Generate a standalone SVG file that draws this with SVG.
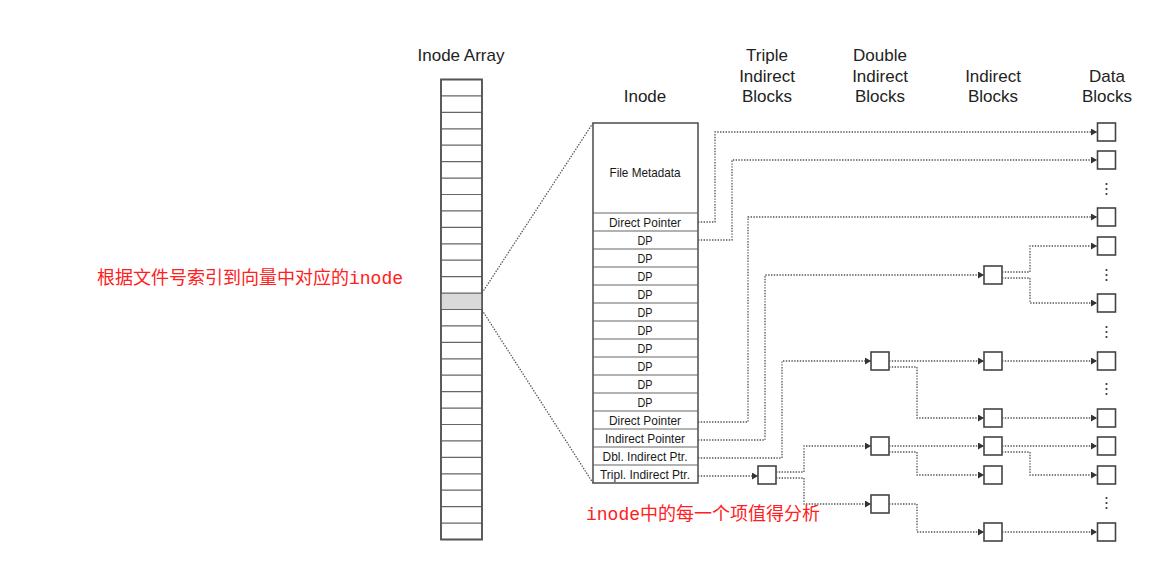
<svg xmlns="http://www.w3.org/2000/svg" width="1167" height="578" viewBox="0 0 1167 578">
<style>
.hdr{font-family:"Liberation Sans",Arial,sans-serif;font-size:17px;fill:#222;text-anchor:middle}
.cell{font-family:"Liberation Sans",Arial,sans-serif;font-size:13px;fill:#1a1a1a;text-anchor:middle}
.red{font-family:"Liberation Mono","Noto Sans CJK SC",monospace;font-size:18px;fill:#ff2020}
.blk{fill:#fff;stroke:#444;stroke-width:1.6}
.frame{fill:#fff;stroke:#555;stroke-width:1.6}
.rowline{stroke:#666;stroke-width:1.2}
.dot{fill:none;stroke:#555;stroke-width:1.3;stroke-dasharray:1.4 1.4}
.arr{fill:none;stroke:#555;stroke-width:1.3;stroke-dasharray:1.4 1.4;marker-end:url(#ah)}
.ell{fill:#333}
</style>
<defs>
<marker id="ah" markerUnits="userSpaceOnUse" markerWidth="6" markerHeight="7" refX="6" refY="3.5" orient="auto">
<path d="M0,0 L6,3.5 L0,7 z" fill="#333"/>
</marker>
</defs>
<rect width="1167" height="578" fill="#fff"/>

<g id="headers">
<text class="hdr" x="461" y="61">Inode Array</text>
<text class="hdr" x="645" y="102">Inode</text>
<text class="hdr" x="767" y="61">Triple</text>
<text class="hdr" x="767" y="82">Indirect</text>
<text class="hdr" x="767" y="102">Blocks</text>
<text class="hdr" x="880" y="61">Double</text>
<text class="hdr" x="880" y="82">Indirect</text>
<text class="hdr" x="880" y="102">Blocks</text>
<text class="hdr" x="993" y="82">Indirect</text>
<text class="hdr" x="993" y="102">Blocks</text>
<text class="hdr" x="1107" y="82">Data</text>
<text class="hdr" x="1107" y="102">Blocks</text>
</g>

<g id="inode-array">
<rect class="frame" x="441" y="79.5" width="41" height="460"/>
<rect x="441" y="293.1" width="41" height="16.4" fill="#d9d9d9"/>
<g class="rowline">
<line x1="441" x2="482" y1="95.9" y2="95.9"/>
<line x1="441" x2="482" y1="112.4" y2="112.4"/>
<line x1="441" x2="482" y1="128.8" y2="128.8"/>
<line x1="441" x2="482" y1="145.2" y2="145.2"/>
<line x1="441" x2="482" y1="161.6" y2="161.6"/>
<line x1="441" x2="482" y1="178.1" y2="178.1"/>
<line x1="441" x2="482" y1="194.5" y2="194.5"/>
<line x1="441" x2="482" y1="210.9" y2="210.9"/>
<line x1="441" x2="482" y1="227.4" y2="227.4"/>
<line x1="441" x2="482" y1="243.8" y2="243.8"/>
<line x1="441" x2="482" y1="260.2" y2="260.2"/>
<line x1="441" x2="482" y1="276.6" y2="276.6"/>
<line x1="441" x2="482" y1="293.1" y2="293.1"/>
<line x1="441" x2="482" y1="309.5" y2="309.5"/>
<line x1="441" x2="482" y1="325.9" y2="325.9"/>
<line x1="441" x2="482" y1="342.4" y2="342.4"/>
<line x1="441" x2="482" y1="358.8" y2="358.8"/>
<line x1="441" x2="482" y1="375.2" y2="375.2"/>
<line x1="441" x2="482" y1="391.6" y2="391.6"/>
<line x1="441" x2="482" y1="408.1" y2="408.1"/>
<line x1="441" x2="482" y1="424.5" y2="424.5"/>
<line x1="441" x2="482" y1="440.9" y2="440.9"/>
<line x1="441" x2="482" y1="457.4" y2="457.4"/>
<line x1="441" x2="482" y1="473.8" y2="473.8"/>
<line x1="441" x2="482" y1="490.2" y2="490.2"/>
<line x1="441" x2="482" y1="506.6" y2="506.6"/>
<line x1="441" x2="482" y1="523.1" y2="523.1"/>
</g>
<rect x="441" y="79.5" width="41" height="460" fill="none" stroke="#555" stroke-width="1.6"/>
</g>

<g id="inode">
<rect class="frame" x="593" y="123" width="105" height="360"/>
<g class="rowline">
<line x1="593" x2="698" y1="213" y2="213"/>
<line x1="593" x2="698" y1="231" y2="231"/>
<line x1="593" x2="698" y1="249" y2="249"/>
<line x1="593" x2="698" y1="267" y2="267"/>
<line x1="593" x2="698" y1="285" y2="285"/>
<line x1="593" x2="698" y1="303" y2="303"/>
<line x1="593" x2="698" y1="321" y2="321"/>
<line x1="593" x2="698" y1="339" y2="339"/>
<line x1="593" x2="698" y1="357" y2="357"/>
<line x1="593" x2="698" y1="375" y2="375"/>
<line x1="593" x2="698" y1="393" y2="393"/>
<line x1="593" x2="698" y1="411" y2="411"/>
<line x1="593" x2="698" y1="429" y2="429"/>
<line x1="593" x2="698" y1="447" y2="447"/>
<line x1="593" x2="698" y1="465" y2="465"/>
</g>
<text class="cell" x="645" y="176.5" textLength="71" lengthAdjust="spacingAndGlyphs">File Metadata</text>
<text class="cell" x="645" y="226.5" textLength="72" lengthAdjust="spacingAndGlyphs">Direct Pointer</text>
<text class="cell" x="645" y="244.5" textLength="15" lengthAdjust="spacingAndGlyphs">DP</text>
<text class="cell" x="645" y="262.5" textLength="15" lengthAdjust="spacingAndGlyphs">DP</text>
<text class="cell" x="645" y="280.5" textLength="15" lengthAdjust="spacingAndGlyphs">DP</text>
<text class="cell" x="645" y="298.5" textLength="15" lengthAdjust="spacingAndGlyphs">DP</text>
<text class="cell" x="645" y="316.5" textLength="15" lengthAdjust="spacingAndGlyphs">DP</text>
<text class="cell" x="645" y="334.5" textLength="15" lengthAdjust="spacingAndGlyphs">DP</text>
<text class="cell" x="645" y="352.5" textLength="15" lengthAdjust="spacingAndGlyphs">DP</text>
<text class="cell" x="645" y="370.5" textLength="15" lengthAdjust="spacingAndGlyphs">DP</text>
<text class="cell" x="645" y="388.5" textLength="15" lengthAdjust="spacingAndGlyphs">DP</text>
<text class="cell" x="645" y="406.5" textLength="15" lengthAdjust="spacingAndGlyphs">DP</text>
<text class="cell" x="645" y="424.5" textLength="72" lengthAdjust="spacingAndGlyphs">Direct Pointer</text>
<text class="cell" x="645" y="442.5" textLength="80" lengthAdjust="spacingAndGlyphs">Indirect Pointer</text>
<text class="cell" x="645" y="460.5" textLength="85" lengthAdjust="spacingAndGlyphs">Dbl. Indirect Ptr.</text>
<text class="cell" x="645" y="478.5" textLength="90" lengthAdjust="spacingAndGlyphs">Tripl. Indirect Ptr.</text>
</g>

<g id="triple-block"><rect class="blk" x="758" y="466" width="18" height="18"/></g>
<g id="double-blocks">
<rect class="blk" x="871" y="352" width="18" height="18"/>
<rect class="blk" x="871" y="437" width="18" height="18"/>
<rect class="blk" x="871" y="495" width="18" height="18"/>
</g>
<g id="indirect-blocks">
<rect class="blk" x="984" y="266" width="18" height="18"/>
<rect class="blk" x="984" y="352" width="18" height="18"/>
<rect class="blk" x="984" y="409" width="18" height="18"/>
<rect class="blk" x="984" y="437" width="18" height="18"/>
<rect class="blk" x="984" y="466" width="18" height="18"/>
<rect class="blk" x="984" y="523" width="18" height="18"/>
</g>
<g id="data-blocks">
<rect class="blk" x="1097.5" y="123" width="18" height="18"/>
<rect class="blk" x="1097.5" y="151" width="18" height="18"/>
<rect class="blk" x="1097.5" y="208" width="18" height="18"/>
<rect class="blk" x="1097.5" y="237" width="18" height="18"/>
<rect class="blk" x="1097.5" y="294" width="18" height="18"/>
<rect class="blk" x="1097.5" y="352" width="18" height="18"/>
<rect class="blk" x="1097.5" y="409" width="18" height="18"/>
<rect class="blk" x="1097.5" y="437" width="18" height="18"/>
<rect class="blk" x="1097.5" y="466" width="18" height="18"/>
<rect class="blk" x="1097.5" y="523" width="18" height="18"/>
</g>
<g id="ellipses" class="ell">
<circle cx="1106.5" cy="184" r="1.1"/><circle cx="1106.5" cy="189" r="1.1"/><circle cx="1106.5" cy="194" r="1.1"/>
<circle cx="1106.5" cy="270" r="1.1"/><circle cx="1106.5" cy="275" r="1.1"/><circle cx="1106.5" cy="280" r="1.1"/>
<circle cx="1106.5" cy="327" r="1.1"/><circle cx="1106.5" cy="332" r="1.1"/><circle cx="1106.5" cy="337" r="1.1"/>
<circle cx="1106.5" cy="384" r="1.1"/><circle cx="1106.5" cy="389" r="1.1"/><circle cx="1106.5" cy="394" r="1.1"/>
<circle cx="1106.5" cy="498" r="1.1"/><circle cx="1106.5" cy="503" r="1.1"/><circle cx="1106.5" cy="508" r="1.1"/>
</g>

<g id="connectors">
<path class="dot" d="M482,293 L593,123"/>
<path class="dot" d="M482,310 L593,483"/>
<path class="arr" d="M698,222 H715 V132 H1097"/>
<path class="arr" d="M698,240 H732 V160 H1097"/>
<path class="arr" d="M698,422 H748 V217 H1097"/>
<path class="arr" d="M698,440 H765 V275 H984"/>
<path class="arr" d="M698,458 H782 V361 H871"/>
<path class="arr" d="M698,476 H758"/>
<path class="arr" d="M1002,272 H1030 V246 H1097"/>
<path class="arr" d="M1002,278 H1030 V303 H1097"/>
<path class="arr" d="M889,361 H984"/>
<path class="arr" d="M889,367 H917 V418 H984"/>
<path class="arr" d="M1002,361 H1097"/>
<path class="arr" d="M1002,418 H1097"/>
<path class="arr" d="M776,472 H804 V446 H871"/>
<path class="arr" d="M776,478 H804 V504 H871"/>
<path class="arr" d="M889,446 H984"/>
<path class="arr" d="M889,452 H917 V475 H984"/>
<path class="arr" d="M1002,446 H1097"/>
<path class="arr" d="M1002,452 H1030 V475 H1097"/>
<path class="arr" d="M889,504 H917 V532 H984"/>
<path class="arr" d="M1002,532 H1097"/>
</g>

<g id="annotations">
<text class="red" x="97" y="284">根据文件号索引到向量中对应的inode</text>
<text class="red" x="586" y="520">inode中的每一个项值得分析</text>
</g>
</svg>
